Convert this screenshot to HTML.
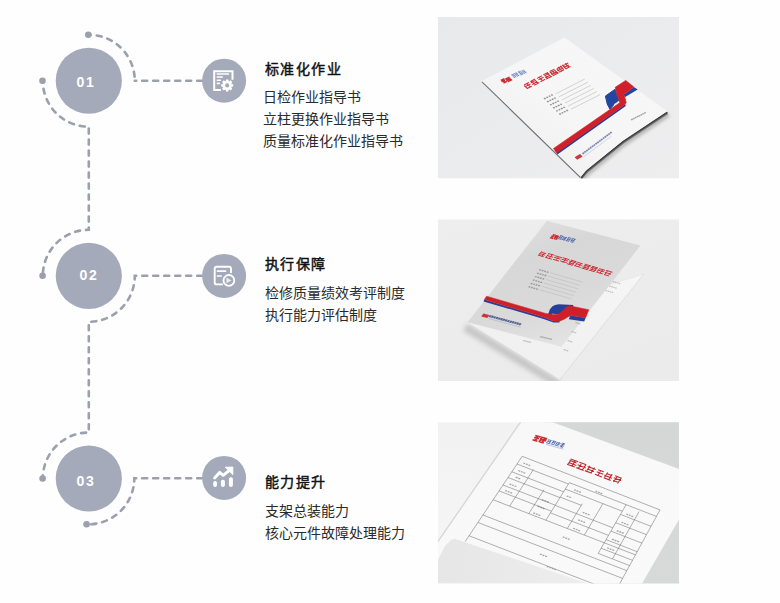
<!DOCTYPE html>
<html lang="zh-CN">
<head>
<meta charset="utf-8">
<style>
html,body{margin:0;padding:0;}
body{width:780px;height:603px;overflow:hidden;background:#fefefe;position:relative;font-family:"Liberation Sans",sans-serif;}
svg.bg{position:absolute;left:0;top:0;}
.t{position:absolute;color:#222;white-space:nowrap;text-align:justify;text-align-last:justify;}
.h{font-size:14px;line-height:20px;font-weight:normal;color:#111;letter-spacing:1.4px;-webkit-text-stroke:0.45px #111;}
.l{font-size:14px;color:#2a2a2a;line-height:22px;}
.num{position:absolute;width:66px;text-align:center;color:#fff;font-weight:bold;font-size:14px;letter-spacing:1.6px;line-height:16px;}
</style>
</head>
<body>
<svg class="bg" width="780" height="603" viewBox="0 0 780 603">
  <defs>
<linearGradient id="bg1" x1="0" y1="0" x2="1" y2="1">
 <stop offset="0" stop-color="#e8e9eb"/><stop offset="1" stop-color="#eeeeef"/>
</linearGradient>
<linearGradient id="bg2" x1="0" y1="0" x2="0.6" y2="1">
 <stop offset="0" stop-color="#eeeeef"/><stop offset="1" stop-color="#ebebeb"/>
</linearGradient>
<linearGradient id="sheet2" x1="1" y1="0" x2="0" y2="1">
 <stop offset="0" stop-color="#f6f6f6"/><stop offset="1" stop-color="#eeeeee"/>
</linearGradient>
<linearGradient id="cov2" x1="0.1" y1="0" x2="0.6" y2="1">
 <stop offset="0" stop-color="#e2e2e2"/><stop offset="0.35" stop-color="#d7d7d7"/><stop offset="0.7" stop-color="#dadada"/><stop offset="1" stop-color="#e4e4e4"/>
</linearGradient>
<linearGradient id="bg3l" x1="0" y1="0" x2="0" y2="1">
 <stop offset="0" stop-color="#f2f2f2"/><stop offset="1" stop-color="#f6f6f6"/>
</linearGradient>
<linearGradient id="bg3r" x1="0" y1="0" x2="0" y2="1">
 <stop offset="0" stop-color="#d5d6d6"/><stop offset="1" stop-color="#d8d9d9"/>
</linearGradient>
<linearGradient id="doc3" x1="0" y1="0" x2="1" y2="1">
 <stop offset="0" stop-color="#f7f7f7"/><stop offset="1" stop-color="#fafafa"/>
</linearGradient>
<linearGradient id="flap3" x1="0" y1="0" x2="1" y2="0">
 <stop offset="0" stop-color="#e6e6e6"/><stop offset="1" stop-color="#eeeeee"/>
</linearGradient>
<filter id="blur15" x="-20%" y="-20%" width="140%" height="140%"><feGaussianBlur stdDeviation="1.5"/></filter>
<filter id="blur2" x="-20%" y="-20%" width="140%" height="140%"><feGaussianBlur stdDeviation="2.2"/></filter>
<filter id="blur3" x="-20%" y="-20%" width="140%" height="140%"><feGaussianBlur stdDeviation="3"/></filter>
<linearGradient id="doc1" x1="0" y1="1" x2="1" y2="0">
 <stop offset="0" stop-color="#ececec"/><stop offset="0.45" stop-color="#f6f6f6"/><stop offset="1" stop-color="#f7f7f7"/>
</linearGradient>
</defs>
  <!-- timeline -->
  <g fill="none" stroke="#9b9fae" stroke-width="2.6" stroke-linecap="round" stroke-dasharray="5 6">
    <path stroke-dashoffset="3" d="M88.8 34.75 A46 46 0 0 1 134.8 80.75"/>
    <path stroke-dashoffset="0.2" d="M202 80.75 L134.8 80.75"/>
    <path stroke-dashoffset="3" d="M42.8 80.75 A46 46 0 0 0 88.8 126.75 L88.8 229.8 A46 46 0 0 0 42.8 275.8"/>
    <path stroke-dashoffset="0.2" d="M202 275.8 L134.8 275.8 A46 46 0 0 1 88.8 321.8 L88.8 432.5 A46 46 0 0 0 42.8 478.5"/>
    <path stroke-dashoffset="0.2" d="M202 478.3 L134.3 478.3 A46 46 0 0 1 88.3 524.3"/>
  </g>
  <g fill="#9b9fae">
    <circle cx="88.3" cy="34.75" r="3.3"/>
    <circle cx="42.5" cy="80.75" r="3.3"/>
    <circle cx="42.6" cy="275.8" r="3.3"/>
    <circle cx="42.6" cy="478.5" r="3.3"/>
    <circle cx="86.6" cy="524.3" r="3.3"/>
  </g>
  <g fill="#a5aabb">
    <circle cx="88.8" cy="80.75" r="33.1"/>
    <circle cx="88.8" cy="275.8" r="33.1"/>
    <circle cx="88.8" cy="478.5" r="33.1"/>
    <circle cx="224.1" cy="80.7" r="22"/>
    <circle cx="224.1" cy="275.9" r="22"/>
    <circle cx="224.1" cy="477.9" r="22"/>
  </g>
  <!-- icon 1: doc + gear -->
  <g fill="none" stroke="#fff" stroke-width="2">
    <path d="M232.5 79.7 V71.2 H214.2 V90 H220.9"/>
  </g>
  <g stroke="#fff" stroke-width="1.6" stroke-linecap="butt">
    <path d="M216.7 74H229.1 M216.7 77H222.9 M216.7 80.2H220.9 M216.7 83.4H219.9"/>
  </g>
  <g transform="translate(227.2 85.4)">
    <path fill="#fff" fill-rule="evenodd" d="M-1.39 -4.49 L-1.15 -5.99 L1.15 -5.99 L1.39 -4.49 L2.19 -4.16 L3.42 -5.05 L5.05 -3.42 L4.16 -2.19 L4.49 -1.39 L5.99 -1.15 L5.99 1.15 L4.49 1.39 L4.16 2.19 L5.05 3.42 L3.42 5.05 L2.19 4.16 L1.39 4.49 L1.15 5.99 L-1.15 5.99 L-1.39 4.49 L-2.19 4.16 L-3.42 5.05 L-5.05 3.42 L-4.16 2.19 L-4.49 1.39 L-5.99 1.15 L-5.99 -1.15 L-4.49 -1.39 L-4.16 -2.19 L-5.05 -3.42 L-3.42 -5.05 L-2.19 -4.16 Z M2.1 0 A2.1 2.1 0 1 0 -2.1 0 A2.1 2.1 0 1 0 2.1 0 Z"/>
  </g>
  <!-- icon 2: doc + play -->
  <path fill="none" stroke="#fff" stroke-width="1.9" d="M231 273 V268.7 Q231 266.7 229 266.7 H216.7 Q214.7 266.7 214.7 268.7 V282.4 Q214.7 284.4 216.7 284.4 H222.9"/>
  <path stroke="#fff" stroke-width="1.7" stroke-linecap="round" d="M217.5 271.1H225.6 M217.5 276H221.1"/>
  <circle cx="228.9" cy="280.4" r="5.4" fill="none" stroke="#fff" stroke-width="1.8"/>
  <path fill="#ebebf0" d="M226.4 277.5 L226.4 283.2 L231.6 280.4 Z"/>
  <!-- icon 3: chart -->
  <g fill="#fff">
    <rect x="213.2" y="480.9" width="3.8" height="6" rx="1.9"/>
    <rect x="220.9" y="479.7" width="4" height="7.2" rx="1.9"/>
    <rect x="228.9" y="477.2" width="4" height="9.7" rx="1.9"/>
    <path d="M225.2 467.2 L232.9 467 L232.9 474.7 Z" stroke="#fff" stroke-width="0.8" stroke-linejoin="round"/>
  </g>
  <path fill="none" stroke="#fff" stroke-width="3" stroke-linecap="round" stroke-linejoin="round" d="M214.6 477.9 L219.6 472.4 L223.2 475.3 L230 469.8"/>

  <!-- photos -->
  <clipPath id="c1"><rect x="438" y="17" width="241" height="161.6"/></clipPath>
<g clip-path="url(#c1)">
<rect x="438" y="17" width="241" height="161.6" fill="url(#bg1)"/>
<path d="M668.4 114.4 L624.0 143.9 L587.7 173.2 Q584.7 176.7 582.1 180.0" stroke="#8a8a8a" stroke-width="5" fill="none" opacity="0.5" filter="url(#blur15)"/>
<path d="M667.6 113.4 L623.2 142.9 L586.9 172.2 Q583.9 175.7 581.3 179.0" stroke="#6e6e6e" stroke-width="1.6" fill="none"/>
<path d="M667.3 112.2 L622.9 141.7 L586.6 171.0 Q583.6 174.5 581.0 177.8" stroke="#3c3c3c" stroke-width="1.5" fill="none"/>
<line x1="482.1" y1="81.8" x2="580.3" y2="177.4" stroke="#4a4a4a" stroke-width="1.3" opacity="0.75"/>
<path d="M481.9 80.9 L564.5 37.5 667.2 111.2 L622.8 140.7 L586.5 170.0 Q583.5 173.5 580.9 176.8 Z" fill="url(#doc1)"/>
<path d="M503.47 82.95L506.93 81.41 M501.60 81.75L505.06 80.21 M500.77 80.34L504.45 78.71 M504.98 82.28L502.11 79.50" stroke="#c8222a" stroke-width="1.50" fill="none" opacity="0.95"/>
<path d="M507.85 81.61L512.17 79.68 M506.74 80.23L510.63 78.49 M505.26 79.11L509.59 77.18 M507.85 81.00L505.70 78.91 M510.73 80.73L507.86 77.95" stroke="#c8222a" stroke-width="1.50" fill="none" opacity="0.95"/>
<path d="M513.65 77.52L515.99 76.46 M512.62 76.11L514.67 75.18 M511.17 75.12L513.95 73.86 M515.04 77.83L511.74 74.63 M516.50 77.16L513.20 73.96" stroke="#3556aa" stroke-width="0.65" fill="none" opacity="0.8"/>
<path d="M517.19 75.91L519.24 74.98 M515.43 74.83L517.92 73.70 M514.27 73.71L516.76 72.58 M517.71 76.62L514.40 73.42 M519.17 75.95L515.86 72.75" stroke="#3556aa" stroke-width="0.65" fill="none" opacity="0.8"/>
<path d="M520.50 75.12L523.42 73.79 M519.94 73.96L522.43 72.83 M518.35 73.04L520.84 71.91 M517.96 72.04L520.30 70.97 M521.54 74.88L518.24 71.68 M523.00 74.21L520.36 71.65" stroke="#3556aa" stroke-width="0.65" fill="none" opacity="0.8"/>
<path d="M523.65 73.55L526.57 72.22 M522.57 72.29L525.20 71.10 M521.27 71.24L523.76 70.11 M524.79 73.40L522.15 70.84 M526.25 72.74L523.61 70.18" stroke="#3556aa" stroke-width="0.65" fill="none" opacity="0.8"/>
<path d="M527.61 88.30L531.75 86.17 M524.79 86.87L530.41 83.99 M524.17 84.96L528.90 82.53 M527.75 88.86L524.30 85.52 M530.71 87.35L526.40 83.17" stroke="#c9262c" stroke-width="1.05" fill="none" opacity="0.95"/>
<path d="M534.26 85.20L539.28 82.62 M532.08 84.41L537.10 81.83 M530.86 82.79L535.60 80.37 M530.38 81.45L535.11 79.02 M534.50 84.12L531.05 80.78 M538.32 83.44L534.87 80.10" stroke="#c9262c" stroke-width="1.05" fill="none" opacity="0.95"/>
<path d="M540.47 81.70L545.20 79.27 M538.53 79.82L543.56 77.24 M537.02 78.36L542.05 75.77 M542.11 80.22L538.66 76.88" stroke="#c9262c" stroke-width="1.05" fill="none" opacity="0.95"/>
<path d="M546.23 79.06L551.85 76.18 M545.23 77.66L549.96 75.23 M544.31 75.89L549.04 73.46 M543.24 74.85L547.97 72.42 M547.36 77.52L544.77 75.02 M551.17 76.84L546.86 72.66" stroke="#c9262c" stroke-width="1.05" fill="none" opacity="0.95"/>
<path d="M552.66 75.76L558.57 72.72 M551.36 74.51L556.98 71.62 M549.85 73.05L555.47 70.16 M549.66 71.55L554.40 69.12 M553.76 75.51L550.31 72.17 M555.83 74.45L552.38 71.11 M557.90 73.39L554.45 70.05" stroke="#c9262c" stroke-width="1.05" fill="none" opacity="0.95"/>
<path d="M559.25 72.18L563.98 69.75 M557.36 70.79L562.98 67.91 M556.74 68.87L561.77 66.29 M559.33 71.38L556.74 68.87 M561.40 70.32L557.95 66.98 M563.47 69.25L560.02 65.91" stroke="#c9262c" stroke-width="1.05" fill="none" opacity="0.95"/>
<path d="M566.27 68.58L570.41 66.45 M563.79 67.49L568.82 64.91 M563.17 65.57L568.20 62.99 M566.32 69.06L562.01 64.89 M569.28 67.55L564.97 63.37" stroke="#c9262c" stroke-width="1.05" fill="none" opacity="0.95"/>
<polygon points="544.6,99.4 546.2,98.7 545.0,97.5 543.5,98.3" fill="#555" opacity="0.6"/>
<polygon points="547.0,98.2 548.5,97.5 547.4,96.4 545.8,97.1" fill="#555" opacity="0.6"/>
<polygon points="549.4,97.1 550.9,96.4 549.8,95.2 548.2,96.0" fill="#555" opacity="0.6"/>
<polygon points="551.7,95.9 553.3,95.2 552.1,94.1 550.6,94.8" fill="#555" opacity="0.6"/>
<line x1="555.7" y1="93.8" x2="584.7" y2="79.1" stroke="#9a9a9a" stroke-width="0.5" opacity="0.8"/>
<polygon points="547.7,102.5 549.2,101.8 548.1,100.6 546.5,101.4" fill="#555" opacity="0.6"/>
<polygon points="550.0,101.3 551.6,100.6 550.4,99.5 548.9,100.2" fill="#555" opacity="0.6"/>
<polygon points="552.4,100.2 554.0,99.5 552.8,98.3 551.3,99.1" fill="#555" opacity="0.6"/>
<polygon points="554.8,99.0 556.3,98.3 555.2,97.2 553.6,97.9" fill="#555" opacity="0.6"/>
<line x1="558.8" y1="96.9" x2="587.8" y2="82.2" stroke="#9a9a9a" stroke-width="0.5" opacity="0.8"/>
<polygon points="550.7,105.6 552.3,104.9 551.1,103.7 549.6,104.5" fill="#555" opacity="0.6"/>
<polygon points="553.1,104.4 554.6,103.7 553.5,102.6 551.9,103.3" fill="#555" opacity="0.6"/>
<polygon points="555.5,103.3 557.0,102.6 555.9,101.4 554.3,102.2" fill="#555" opacity="0.6"/>
<polygon points="557.8,102.1 559.4,101.4 558.2,100.3 556.7,101.0" fill="#555" opacity="0.6"/>
<line x1="561.8" y1="100.0" x2="590.8" y2="85.3" stroke="#9a9a9a" stroke-width="0.5" opacity="0.8"/>
<polygon points="553.8,108.7 555.3,108.0 554.2,106.8 552.6,107.6" fill="#555" opacity="0.6"/>
<polygon points="556.1,107.5 557.7,106.8 556.5,105.7 555.0,106.4" fill="#555" opacity="0.6"/>
<polygon points="558.5,106.4 560.1,105.7 558.9,104.5 557.4,105.3" fill="#555" opacity="0.6"/>
<polygon points="560.9,105.2 562.4,104.5 561.3,103.4 559.7,104.1" fill="#555" opacity="0.6"/>
<line x1="564.9" y1="103.1" x2="593.9" y2="88.4" stroke="#9a9a9a" stroke-width="0.5" opacity="0.8"/>
<polygon points="556.8,111.8 558.4,111.1 557.2,109.9 555.7,110.7" fill="#555" opacity="0.6"/>
<polygon points="559.2,110.6 560.7,109.9 559.6,108.8 558.0,109.5" fill="#555" opacity="0.6"/>
<polygon points="561.6,109.5 563.1,108.8 562.0,107.6 560.4,108.4" fill="#555" opacity="0.6"/>
<polygon points="563.9,108.3 565.5,107.6 564.3,106.5 562.8,107.2" fill="#555" opacity="0.6"/>
<line x1="567.9" y1="106.2" x2="596.9" y2="91.5" stroke="#9a9a9a" stroke-width="0.5" opacity="0.8"/>
<polygon points="559.9,114.9 561.4,114.2 560.3,113.0 558.7,113.8" fill="#555" opacity="0.6"/>
<polygon points="562.2,113.7 563.8,113.0 562.6,111.9 561.1,112.6" fill="#555" opacity="0.6"/>
<polygon points="564.6,112.6 566.2,111.9 565.0,110.7 563.5,111.5" fill="#555" opacity="0.6"/>
<polygon points="567.0,111.4 568.5,110.7 567.4,109.6 565.8,110.3" fill="#555" opacity="0.6"/>
<line x1="571.0" y1="109.3" x2="600.0" y2="94.6" stroke="#9a9a9a" stroke-width="0.5" opacity="0.8"/>
<polygon points="556.6,152.6 625.2,104.2 625.8,105.9 557.4,154.6" fill="#1f3f9a"/>
<polygon points="605.4,96.1 615.0,89.3 616.9,94.9 619.2,100.6 614.4,104.0 609.9,109.2 607.2,104.0" fill="#2346a0" stroke="#2346a0" stroke-width="1" stroke-linejoin="round"/>
<polygon points="614.1,104.2 619.2,100.8 620.2,102.9 614.9,106.4" fill="#f2f2f2"/>
<polygon points="623.7,94.4 633.9,87.0 637.7,89.6 624.8,97.2" fill="#2346a0"/>
<polygon points="615.2,87.3 625.7,80.4 633.9,87.0 623.7,94.4 624.8,97.2 626.2,102.3 625.1,104.5 556.6,153.0 553.5,148.5 619.7,102.8 619.2,100.6 616.9,94.9" fill="#d0202a" stroke="#d0202a" stroke-width="0.6" stroke-linejoin="round"/>
<polygon points="577.2,159.8 582.6,156.6 580.0,154.1 574.6,157.3" fill="#c8222a" opacity="0.9"/>
<polygon points="583.2,154.5 584.7,153.4 583.4,152.1 581.9,153.2" fill="#2a3f8a" opacity="0.6"/>
<polygon points="585.0,153.1 586.5,152.0 585.2,150.7 583.7,151.8" fill="#2a3f8a" opacity="0.6"/>
<polygon points="586.9,151.7 588.3,150.6 587.1,149.4 585.6,150.5" fill="#2a3f8a" opacity="0.6"/>
<polygon points="588.7,150.3 590.2,149.2 588.9,148.0 587.4,149.1" fill="#2a3f8a" opacity="0.6"/>
<polygon points="590.6,149.0 592.0,147.9 590.7,146.6 589.3,147.7" fill="#2a3f8a" opacity="0.6"/>
<polygon points="592.4,147.6 593.9,146.5 592.6,145.2 591.1,146.3" fill="#2a3f8a" opacity="0.6"/>
<polygon points="594.2,146.2 595.7,145.1 594.4,143.9 593.0,145.0" fill="#2a3f8a" opacity="0.6"/>
<polygon points="596.1,144.8 597.6,143.7 596.3,142.5 594.8,143.6" fill="#2a3f8a" opacity="0.6"/>
<polygon points="597.9,143.5 599.4,142.4 598.1,141.1 596.6,142.2" fill="#2a3f8a" opacity="0.6"/>
<polygon points="599.8,142.1 601.3,141.0 600.0,139.7 598.5,140.8" fill="#2a3f8a" opacity="0.6"/>
<polygon points="601.6,140.7 603.1,139.6 601.8,138.4 600.3,139.5" fill="#2a3f8a" opacity="0.6"/>
<polygon points="603.5,139.3 604.9,138.2 603.6,137.0 602.2,138.1" fill="#2a3f8a" opacity="0.6"/>
<polygon points="605.3,138.0 606.8,136.9 605.5,135.6 604.0,136.7" fill="#2a3f8a" opacity="0.6"/>
<polygon points="607.2,136.6 608.6,135.5 607.3,134.2 605.9,135.3" fill="#2a3f8a" opacity="0.6"/>
<polygon points="609.0,135.2 610.5,134.1 609.2,132.9 607.7,134.0" fill="#2a3f8a" opacity="0.6"/>
<polygon points="610.8,133.8 612.3,132.7 611.0,131.5 609.5,132.6" fill="#2a3f8a" opacity="0.6"/>
<line x1="584.2" y1="156.4" x2="611.5" y2="136.2" stroke="#7f8fb8" stroke-width="0.5" opacity="0.6"/>
<polygon points="631.7,120.4 633.2,119.7 632.1,118.6 630.6,119.4" fill="#666" opacity="0.6"/>
<polygon points="633.6,119.5 635.1,118.7 634.0,117.7 632.5,118.4" fill="#666" opacity="0.6"/>
<polygon points="635.4,118.5 636.9,117.8 635.9,116.7 634.4,117.5" fill="#666" opacity="0.6"/>
<polygon points="637.3,117.6 638.8,116.8 637.7,115.8 636.2,116.6" fill="#666" opacity="0.6"/>
<polygon points="639.2,116.7 640.7,115.9 639.6,114.9 638.1,115.6" fill="#666" opacity="0.6"/>
<polygon points="641.1,115.7 642.6,115.0 641.5,113.9 640.0,114.7" fill="#666" opacity="0.6"/>
<polygon points="642.9,114.8 644.4,114.0 643.4,113.0 641.9,113.7" fill="#666" opacity="0.6"/>
<polygon points="644.8,113.8 646.3,113.1 645.2,112.1 643.7,112.8" fill="#666" opacity="0.6"/>
</g>
  <clipPath id="c2"><rect x="438" y="219.3" width="241" height="161.7"/></clipPath>
<g clip-path="url(#c2)">
<rect x="438" y="219.3" width="241" height="161.7" fill="url(#bg2)"/>
<polygon points="467.6,323.5 560.0,380.5 557.0,388.0 463.0,331.0" fill="#c4c4c4" filter="url(#blur2)" opacity="0.9"/>
<polygon points="610.0,284.6 643.8,274.0 560.0,379.5 467.6,322.3 550.0,300.0" fill="url(#sheet2)"/>
<line x1="643.8" y1="274.0" x2="560.0" y2="379.5" stroke="#d6d6d6" stroke-width="0.7" opacity="0.9"/>
<line x1="610.0" y1="284.6" x2="643.8" y2="274.0" stroke="#e2e2e2" stroke-width="0.6" opacity="0.9"/>
<polygon points="546.8,220.8 640.4,245.6 561.5,346.7 467.6,322.3" fill="url(#cov2)"/>
<polygon points="612.3,282.1 613.7,282.5 614.5,281.5 613.1,281.1" fill="#8a8a8a" opacity="0.5"/>
<polygon points="614.3,282.7 615.7,283.1 616.5,282.0 615.1,281.6" fill="#8a8a8a" opacity="0.5"/>
<polygon points="616.3,283.2 617.7,283.6 618.5,282.6 617.1,282.2" fill="#8a8a8a" opacity="0.5"/>
<polygon points="618.3,283.8 619.7,284.2 620.5,283.2 619.1,282.8" fill="#8a8a8a" opacity="0.5"/>
<polygon points="608.8,286.6 610.2,287.0 611.0,286.0 609.6,285.6" fill="#8a8a8a" opacity="0.5"/>
<polygon points="610.8,287.2 612.2,287.6 613.0,286.5 611.6,286.1" fill="#8a8a8a" opacity="0.5"/>
<polygon points="612.8,287.7 614.2,288.1 615.0,287.1 613.6,286.7" fill="#8a8a8a" opacity="0.5"/>
<polygon points="614.8,288.3 616.2,288.7 617.0,287.7 615.6,287.3" fill="#8a8a8a" opacity="0.5"/>
<polygon points="605.3,291.1 606.7,291.5 607.5,290.5 606.1,290.1" fill="#8a8a8a" opacity="0.5"/>
<polygon points="607.3,291.7 608.7,292.1 609.5,291.0 608.1,290.6" fill="#8a8a8a" opacity="0.5"/>
<polygon points="609.3,292.2 610.7,292.6 611.5,291.6 610.1,291.2" fill="#8a8a8a" opacity="0.5"/>
<polygon points="611.3,292.8 612.7,293.2 613.5,292.2 612.1,291.8" fill="#8a8a8a" opacity="0.5"/>
<polygon points="575.2,323.1 576.4,323.4 577.2,322.4 576.0,322.1" fill="#8a8a8a" opacity="0.55"/>
<polygon points="576.9,323.6 578.1,323.9 578.9,322.9 577.7,322.6" fill="#8a8a8a" opacity="0.55"/>
<polygon points="578.6,324.1 579.8,324.4 580.5,323.4 579.4,323.1" fill="#8a8a8a" opacity="0.55"/>
<polygon points="571.2,332.1 572.4,332.4 573.2,331.4 572.0,331.1" fill="#8a8a8a" opacity="0.55"/>
<polygon points="572.9,332.6 574.1,332.9 574.9,331.9 573.7,331.6" fill="#8a8a8a" opacity="0.55"/>
<polygon points="574.6,333.1 575.8,333.4 576.5,332.4 575.4,332.1" fill="#8a8a8a" opacity="0.55"/>
<polygon points="567.2,341.1 568.4,341.4 569.2,340.4 568.0,340.1" fill="#8a8a8a" opacity="0.55"/>
<polygon points="568.9,341.6 570.1,341.9 570.9,340.9 569.7,340.6" fill="#8a8a8a" opacity="0.55"/>
<polygon points="570.6,342.1 571.8,342.4 572.5,341.4 571.4,341.1" fill="#8a8a8a" opacity="0.55"/>
<polygon points="563.2,350.1 564.4,350.4 565.2,349.4 564.0,349.1" fill="#8a8a8a" opacity="0.55"/>
<polygon points="564.9,350.6 566.1,350.9 566.9,349.9 565.7,349.6" fill="#8a8a8a" opacity="0.55"/>
<polygon points="566.6,351.1 567.8,351.4 568.5,350.4 567.4,350.1" fill="#8a8a8a" opacity="0.55"/>
<path d="M549.90 237.69L553.32 238.60 M551.17 236.05L554.59 236.97 M552.80 234.52L555.86 235.33 M551.38 238.30L553.64 235.40" stroke="#c8222a" stroke-width="1.30" fill="none" opacity="0.95"/>
<path d="M554.15 238.60L557.21 239.42 M554.88 236.83L557.94 237.64 M555.87 235.56L558.93 236.37 M554.05 239.01L556.87 235.39 M556.59 238.81L558.29 236.64" stroke="#c8222a" stroke-width="1.30" fill="none" opacity="0.95"/>
<path d="M557.83 238.48L561.43 239.38 M559.17 237.04L562.05 237.76 M560.15 235.50L563.57 236.36 M558.94 238.17L561.00 235.52 M560.40 239.32L562.98 236.01" stroke="#2f50a5" stroke-width="0.80" fill="none" opacity="0.85"/>
<path d="M562.09 239.43L565.51 240.29 M563.40 238.29L565.92 238.92 M563.95 237.05L567.19 237.86 M562.06 239.74L564.13 237.09 M563.86 240.19L565.93 237.54" stroke="#2f50a5" stroke-width="0.80" fill="none" opacity="0.85"/>
<path d="M566.01 240.53L568.89 241.25 M566.99 238.99L570.41 239.85 M568.15 237.50L571.57 238.36 M566.42 240.83L569.00 237.52 M568.40 241.32L570.47 238.68" stroke="#2f50a5" stroke-width="0.80" fill="none" opacity="0.85"/>
<path d="M570.37 241.62L573.43 242.38 M571.17 240.04L574.59 240.89 M572.33 238.55L575.75 239.40 M570.94 241.17L573.00 238.52 M572.40 242.32L574.98 239.01" stroke="#2f50a5" stroke-width="0.80" fill="none" opacity="0.85"/>
<path d="M538.39 255.14L543.73 256.70 M539.62 253.57L544.95 255.13 M541.45 252.27L546.12 253.64 M538.46 255.58L541.78 251.32 M541.79 256.56L544.45 253.15" stroke="#c6262c" stroke-width="0.95" fill="none" opacity="0.95"/>
<path d="M545.21 257.29L551.88 259.24 M547.03 255.47L553.04 257.23 M548.20 253.46L554.53 255.31 M545.71 257.70L548.36 254.29 M549.04 258.68L552.36 254.42" stroke="#c6262c" stroke-width="0.95" fill="none" opacity="0.95"/>
<path d="M552.96 259.30L558.96 261.05 M554.12 257.28L560.45 259.14 M555.28 255.79L561.95 257.74 M556.29 259.75L558.28 257.19" stroke="#c6262c" stroke-width="0.95" fill="none" opacity="0.95"/>
<path d="M560.20 260.89L566.87 262.84 M561.53 259.19L568.20 261.14 M562.70 257.70L569.37 259.65 M562.88 262.72L566.20 258.46" stroke="#c6262c" stroke-width="0.95" fill="none" opacity="0.95"/>
<path d="M566.96 263.65L572.63 265.31 M568.95 262.67L573.62 264.03 M569.12 260.88L575.79 262.84 M570.95 260.11L576.62 261.77 M568.79 264.45L572.11 260.19 M572.13 265.43L575.45 261.17" stroke="#c6262c" stroke-width="0.95" fill="none" opacity="0.95"/>
<path d="M574.37 265.56L580.71 267.41 M575.87 263.64L582.20 265.50 M577.36 262.25L582.70 263.81 M574.71 266.18L577.36 262.77 M578.71 266.30L580.70 263.75" stroke="#c6262c" stroke-width="0.95" fill="none" opacity="0.95"/>
<path d="M581.46 267.89L587.79 269.74 M582.79 266.71L588.79 268.47 M583.95 265.22L589.28 266.78 M584.78 264.16L591.12 266.01 M583.29 268.69L585.95 265.28 M586.63 269.67L589.95 265.41" stroke="#c6262c" stroke-width="0.95" fill="none" opacity="0.95"/>
<path d="M588.71 270.01L594.38 271.67 M590.04 268.83L596.04 270.59 M590.87 267.24L596.53 268.90 M592.03 266.28L598.03 268.03 M591.21 269.96L593.86 266.55 M593.88 271.79L597.20 267.53" stroke="#c6262c" stroke-width="0.95" fill="none" opacity="0.95"/>
<path d="M597.12 272.21L602.79 273.87 M597.62 270.00L604.29 271.95 M599.11 268.61L605.12 270.37 M596.46 272.54L599.11 269.13 M599.79 273.52L603.11 269.26" stroke="#c6262c" stroke-width="0.95" fill="none" opacity="0.95"/>
<path d="M604.21 274.54L608.88 275.91 M605.03 272.43L611.04 274.19 M606.20 270.42L612.53 272.27 M604.37 274.85L607.70 270.60 M608.71 275.08L610.70 272.52" stroke="#c6262c" stroke-width="0.95" fill="none" opacity="0.95"/>
<polygon points="538.8,270.3 540.5,270.8 541.4,269.5 539.8,269.1" fill="#666" opacity="0.55"/>
<polygon points="541.3,271.1 543.0,271.5 543.9,270.3 542.3,269.8" fill="#666" opacity="0.55"/>
<polygon points="543.8,271.8 545.5,272.2 546.4,271.0 544.8,270.5" fill="#666" opacity="0.55"/>
<polygon points="546.3,272.5 548.0,273.0 548.9,271.7 547.3,271.2" fill="#666" opacity="0.55"/>
<line x1="550.4" y1="272.7" x2="582.4" y2="282.0" stroke="#a8a8a8" stroke-width="0.45" opacity="0.8"/>
<polygon points="536.7,273.7 538.3,274.2 539.3,272.9 537.7,272.5" fill="#666" opacity="0.55"/>
<polygon points="539.2,274.5 540.8,274.9 541.8,273.7 540.2,273.2" fill="#666" opacity="0.55"/>
<polygon points="541.7,275.2 543.3,275.6 544.3,274.4 542.7,273.9" fill="#666" opacity="0.55"/>
<polygon points="544.2,275.9 545.8,276.4 546.8,275.1 545.2,274.6" fill="#666" opacity="0.55"/>
<line x1="548.2" y1="276.1" x2="580.2" y2="285.4" stroke="#a8a8a8" stroke-width="0.45" opacity="0.8"/>
<polygon points="534.5,277.1 536.2,277.6 537.1,276.3 535.5,275.9" fill="#666" opacity="0.55"/>
<polygon points="537.0,277.9 538.7,278.3 539.6,277.1 538.0,276.6" fill="#666" opacity="0.55"/>
<polygon points="539.5,278.6 541.2,279.0 542.1,277.8 540.5,277.3" fill="#666" opacity="0.55"/>
<polygon points="542.0,279.3 543.7,279.8 544.6,278.5 543.0,278.0" fill="#666" opacity="0.55"/>
<line x1="546.1" y1="279.5" x2="578.1" y2="288.8" stroke="#a8a8a8" stroke-width="0.45" opacity="0.8"/>
<polygon points="532.4,280.5 534.0,281.0 535.0,279.7 533.4,279.3" fill="#666" opacity="0.55"/>
<polygon points="534.9,281.3 536.5,281.7 537.5,280.5 535.9,280.0" fill="#666" opacity="0.55"/>
<polygon points="537.4,282.0 539.0,282.4 540.0,281.2 538.4,280.7" fill="#666" opacity="0.55"/>
<polygon points="539.9,282.7 541.5,283.2 542.5,281.9 540.9,281.4" fill="#666" opacity="0.55"/>
<line x1="543.9" y1="282.9" x2="575.9" y2="292.2" stroke="#a8a8a8" stroke-width="0.45" opacity="0.8"/>
<polygon points="530.2,283.9 531.9,284.4 532.8,283.1 531.2,282.7" fill="#666" opacity="0.55"/>
<polygon points="532.7,284.7 534.4,285.1 535.3,283.9 533.7,283.4" fill="#666" opacity="0.55"/>
<polygon points="535.2,285.4 536.9,285.8 537.8,284.6 536.2,284.1" fill="#666" opacity="0.55"/>
<polygon points="537.7,286.1 539.4,286.6 540.3,285.3 538.7,284.8" fill="#666" opacity="0.55"/>
<line x1="541.8" y1="286.3" x2="573.8" y2="295.6" stroke="#a8a8a8" stroke-width="0.45" opacity="0.8"/>
<polygon points="528.1,287.3 529.7,287.8 530.7,286.5 529.1,286.1" fill="#666" opacity="0.55"/>
<polygon points="530.6,288.1 532.2,288.5 533.2,287.3 531.6,286.8" fill="#666" opacity="0.55"/>
<polygon points="533.1,288.8 534.7,289.2 535.7,288.0 534.1,287.5" fill="#666" opacity="0.55"/>
<polygon points="535.6,289.5 537.2,290.0 538.2,288.7 536.6,288.2" fill="#666" opacity="0.55"/>
<line x1="539.6" y1="289.7" x2="571.6" y2="299.0" stroke="#a8a8a8" stroke-width="0.45" opacity="0.8"/>
<polygon points="484.2,299.6 544.2,317.3 553.4,321.1 559.5,320.8 559.5,322.4 553.4,322.6 543.6,319.1 483.6,301.4" fill="#24409a"/>
<polygon points="548.0,314.6 550.0,309.2 552.2,306.6 555.0,305.0 558.8,304.2 573.4,305.1 570.3,316.2 559.5,316.5" fill="#24409a"/>
<polygon points="570.3,315.4 585.7,317.7 584.2,321.5 568.8,319.2" fill="#24409a"/>
<polygon points="551.8,313.8 559.5,314.3 559.2,316.5 552.2,316.2" fill="#e8e8e8"/>
<polygon points="486.5,296.2 545.7,313.4 551.8,314.4 558.0,314.3 561.8,311.5 566.5,306.9 569.5,305.8 588.8,309.7 585.7,317.7 570.3,315.4 564.2,319.2 559.5,321.2 553.4,321.1 544.2,317.3 484.4,299.6" fill="#cf2029" stroke="#cf2029" stroke-width="0.5" stroke-linejoin="round"/>
<polygon points="481.2,316.4 487.2,317.9 489.4,315.1 483.4,313.6" fill="#c8222a" opacity="0.9"/>
<polygon points="488.4,316.8 490.3,317.4 491.8,315.5 489.8,315.0" fill="#26397a" opacity="0.75"/>
<polygon points="490.7,317.5 492.6,318.0 494.1,316.1 492.1,315.6" fill="#26397a" opacity="0.75"/>
<polygon points="493.0,318.1 494.9,318.6 496.4,316.7 494.4,316.2" fill="#26397a" opacity="0.75"/>
<polygon points="495.3,318.7 497.2,319.2 498.7,317.3 496.7,316.8" fill="#26397a" opacity="0.75"/>
<polygon points="497.5,319.3 499.5,319.8 501.0,317.9 499.0,317.4" fill="#26397a" opacity="0.75"/>
<polygon points="499.8,319.9 501.8,320.4 503.3,318.5 501.3,318.0" fill="#26397a" opacity="0.75"/>
<polygon points="502.1,320.5 504.1,321.1 505.6,319.2 503.6,318.6" fill="#26397a" opacity="0.75"/>
<polygon points="504.4,321.1 506.4,321.7 507.8,319.8 505.9,319.3" fill="#26397a" opacity="0.75"/>
<polygon points="506.7,321.8 508.7,322.3 510.1,320.4 508.2,319.9" fill="#26397a" opacity="0.75"/>
<polygon points="509.0,322.4 511.0,322.9 512.4,321.0 510.5,320.5" fill="#26397a" opacity="0.75"/>
<polygon points="511.3,323.0 513.2,323.5 514.7,321.6 512.8,321.1" fill="#26397a" opacity="0.75"/>
<polygon points="513.6,323.6 515.5,324.1 517.0,322.2 515.1,321.7" fill="#26397a" opacity="0.75"/>
<polygon points="515.9,324.2 517.8,324.7 519.3,322.8 517.4,322.3" fill="#26397a" opacity="0.75"/>
<polygon points="518.2,324.8 520.1,325.4 521.6,323.5 519.7,322.9" fill="#26397a" opacity="0.75"/>
<line x1="488.5" y1="318.5" x2="520.5" y2="327.2" stroke="#6f7fb0" stroke-width="0.45" opacity="0.6"/>
<polygon points="539.7,337.2 541.3,337.6 542.3,336.4 540.7,336.0" fill="#777" opacity="0.55"/>
<polygon points="541.7,337.7 543.3,338.1 544.3,336.8 542.7,336.5" fill="#777" opacity="0.55"/>
<polygon points="543.7,338.2 545.3,338.6 546.3,337.3 544.7,336.9" fill="#777" opacity="0.55"/>
<polygon points="545.7,338.6 547.3,339.0 548.3,337.8 546.7,337.4" fill="#777" opacity="0.55"/>
<polygon points="547.7,339.1 549.3,339.5 550.3,338.2 548.7,337.9" fill="#777" opacity="0.55"/>
<polygon points="549.7,339.6 551.3,340.0 552.3,338.7 550.7,338.3" fill="#777" opacity="0.55"/>
<polygon points="522.7,341.1 524.3,341.4 525.2,340.3 523.6,339.9" fill="#888" opacity="0.5"/>
<polygon points="524.7,341.6 526.3,341.9 527.2,340.8 525.6,340.4" fill="#888" opacity="0.5"/>
<polygon points="526.7,342.1 528.3,342.4 529.2,341.3 527.6,340.9" fill="#888" opacity="0.5"/>
<polygon points="528.7,342.6 530.3,342.9 531.2,341.8 529.6,341.4" fill="#888" opacity="0.5"/>
</g>
  <clipPath id="c3"><rect x="438" y="422.2" width="241" height="161.3"/></clipPath>
<g clip-path="url(#c3)">
<rect x="438" y="422.2" width="241" height="161.3" fill="url(#bg3l)"/>
<polygon points="540.0,410.0 700.0,410.0 700.0,600.0 600.0,600.0" fill="url(#bg3r)"/>
<line x1="527.0" y1="413.0" x2="397.6" y2="600.0" stroke="#cfcfcf" stroke-width="1.6" opacity="0.8"/>
<polygon points="527.8,413.0 703.0,478.0 632.5,600.0 398.4,600.0" fill="url(#doc3)"/>
<line x1="522.2" y1="456.3" x2="660.0" y2="509.9" stroke="#5a5a5a" stroke-width="0.55" opacity="0.85"/>
<line x1="522.2" y1="456.3" x2="463.6" y2="543.9" stroke="#5a5a5a" stroke-width="0.55" opacity="0.85"/>
<line x1="660.0" y1="509.9" x2="610.5" y2="600.6" stroke="#5a5a5a" stroke-width="0.55" opacity="0.85"/>
<line x1="493.2" y1="499.8" x2="635.5" y2="554.9" stroke="#5a5a5a" stroke-width="0.55" opacity="0.85"/>
<line x1="483.0" y1="515.0" x2="626.8" y2="570.7" stroke="#5a5a5a" stroke-width="0.55" opacity="0.85"/>
<line x1="478.0" y1="522.5" x2="622.6" y2="578.4" stroke="#5a5a5a" stroke-width="0.55" opacity="0.85"/>
<line x1="469.1" y1="535.8" x2="615.1" y2="592.2" stroke="#5a5a5a" stroke-width="0.55" opacity="0.85"/>
<line x1="517.0" y1="464.0" x2="568.4" y2="484.0" stroke="#5a5a5a" stroke-width="0.55" opacity="0.85"/>
<line x1="511.9" y1="471.8" x2="563.6" y2="491.8" stroke="#5a5a5a" stroke-width="0.55" opacity="0.85"/>
<line x1="508.0" y1="477.5" x2="560.0" y2="497.6" stroke="#5a5a5a" stroke-width="0.55" opacity="0.85"/>
<line x1="503.0" y1="485.0" x2="555.3" y2="505.2" stroke="#5a5a5a" stroke-width="0.55" opacity="0.85"/>
<line x1="499.1" y1="490.9" x2="551.5" y2="511.2" stroke="#5a5a5a" stroke-width="0.55" opacity="0.85"/>
<line x1="533.4" y1="469.6" x2="509.6" y2="506.1" stroke="#5a5a5a" stroke-width="0.55" opacity="0.85"/>
<line x1="544.0" y1="489.8" x2="528.8" y2="513.6" stroke="#5a5a5a" stroke-width="0.55" opacity="0.85"/>
<line x1="569.3" y1="482.6" x2="545.9" y2="520.2" stroke="#5a5a5a" stroke-width="0.55" opacity="0.85"/>
<line x1="569.3" y1="482.6" x2="656.4" y2="516.4" stroke="#5a5a5a" stroke-width="0.55" opacity="0.85"/>
<line x1="565.3" y1="489.0" x2="622.3" y2="511.2" stroke="#5a5a5a" stroke-width="0.55" opacity="0.85"/>
<line x1="582.3" y1="503.7" x2="567.3" y2="528.5" stroke="#5a5a5a" stroke-width="0.55" opacity="0.85"/>
<line x1="560.3" y1="497.2" x2="581.3" y2="505.3" stroke="#5a5a5a" stroke-width="0.55" opacity="0.85"/>
<line x1="555.2" y1="505.4" x2="612.8" y2="527.8" stroke="#5a5a5a" stroke-width="0.55" opacity="0.85"/>
<line x1="550.5" y1="512.9" x2="608.5" y2="535.4" stroke="#5a5a5a" stroke-width="0.55" opacity="0.85"/>
<line x1="602.9" y1="503.6" x2="584.4" y2="535.1" stroke="#5a5a5a" stroke-width="0.55" opacity="0.85"/>
<line x1="626.1" y1="504.6" x2="598.2" y2="553.4" stroke="#5a5a5a" stroke-width="0.55" opacity="0.85"/>
<line x1="639.0" y1="511.6" x2="612.5" y2="558.9" stroke="#5a5a5a" stroke-width="0.55" opacity="0.85"/>
<line x1="620.5" y1="514.4" x2="651.0" y2="526.3" stroke="#5a5a5a" stroke-width="0.55" opacity="0.85"/>
<line x1="615.7" y1="522.7" x2="646.5" y2="534.7" stroke="#5a5a5a" stroke-width="0.55" opacity="0.85"/>
<line x1="610.9" y1="531.1" x2="641.9" y2="543.1" stroke="#5a5a5a" stroke-width="0.55" opacity="0.85"/>
<line x1="606.1" y1="539.6" x2="637.2" y2="551.7" stroke="#5a5a5a" stroke-width="0.55" opacity="0.85"/>
<line x1="601.1" y1="548.2" x2="632.5" y2="560.3" stroke="#5a5a5a" stroke-width="0.55" opacity="0.85"/>
<line x1="598.2" y1="553.4" x2="629.6" y2="565.6" stroke="#5a5a5a" stroke-width="0.55" opacity="0.85"/>
<polygon points="523.1,463.6 524.8,464.3 525.5,463.2 523.8,462.5" fill="#555" opacity="0.5"/>
<polygon points="525.6,464.5 527.3,465.2 528.0,464.1 526.3,463.5" fill="#555" opacity="0.5"/>
<polygon points="528.1,465.5 529.8,466.2 530.5,465.1 528.8,464.4" fill="#555" opacity="0.5"/>
<polygon points="518.0,471.1 519.8,471.8 520.5,470.7 518.8,470.1" fill="#555" opacity="0.5"/>
<polygon points="520.6,472.1 522.3,472.8 523.0,471.7 521.3,471.0" fill="#555" opacity="0.5"/>
<polygon points="523.1,473.1 524.8,473.8 525.5,472.7 523.8,472.0" fill="#555" opacity="0.5"/>
<polygon points="515.4,477.7 517.2,478.4 517.9,477.3 516.2,476.6" fill="#555" opacity="0.5"/>
<polygon points="518.0,478.7 519.7,479.4 520.5,478.3 518.7,477.6" fill="#555" opacity="0.5"/>
<polygon points="509.2,484.5 511.0,485.2 511.7,484.1 509.9,483.4" fill="#555" opacity="0.5"/>
<polygon points="511.7,485.5 513.5,486.1 514.2,485.1 512.4,484.4" fill="#555" opacity="0.5"/>
<polygon points="514.3,486.4 516.0,487.1 516.8,486.0 515.0,485.4" fill="#555" opacity="0.5"/>
<polygon points="504.8,491.0 506.6,491.7 507.3,490.6 505.6,489.9" fill="#555" opacity="0.5"/>
<polygon points="507.4,492.0 509.2,492.7 509.9,491.6 508.1,490.9" fill="#555" opacity="0.5"/>
<polygon points="509.9,493.0 511.7,493.7 512.4,492.6 510.7,491.9" fill="#555" opacity="0.5"/>
<polygon points="541.4,500.1 543.2,500.8 543.9,499.7 542.2,499.0" fill="#555" opacity="0.5"/>
<polygon points="544.0,501.0 545.8,501.7 546.5,500.7 544.7,500.0" fill="#555" opacity="0.5"/>
<polygon points="546.5,502.0 548.3,502.7 549.0,501.6 547.2,501.0" fill="#555" opacity="0.5"/>
<polygon points="537.2,506.7 539.0,507.4 539.7,506.3 538.0,505.6" fill="#555" opacity="0.5"/>
<polygon points="539.8,507.7 541.6,508.4 542.3,507.3 540.5,506.6" fill="#555" opacity="0.5"/>
<polygon points="542.3,508.7 544.1,509.4 544.8,508.3 543.1,507.6" fill="#555" opacity="0.5"/>
<polygon points="533.0,513.4 534.8,514.1 535.5,513.0 533.7,512.3" fill="#555" opacity="0.5"/>
<polygon points="535.6,514.4 537.3,515.1 538.1,514.0 536.3,513.3" fill="#555" opacity="0.5"/>
<polygon points="538.1,515.4 539.9,516.1 540.6,515.0 538.8,514.3" fill="#555" opacity="0.5"/>
<polygon points="573.7,490.2 575.4,490.9 576.1,489.8 574.4,489.2" fill="#555" opacity="0.5"/>
<polygon points="576.2,491.2 577.9,491.9 578.6,490.8 576.9,490.1" fill="#555" opacity="0.5"/>
<polygon points="578.7,492.2 580.4,492.9 581.1,491.8 579.4,491.1" fill="#555" opacity="0.5"/>
<polygon points="566.4,496.5 568.1,497.2 568.9,496.1 567.1,495.4" fill="#555" opacity="0.5"/>
<polygon points="568.9,497.5 570.7,498.1 571.4,497.1 569.6,496.4" fill="#555" opacity="0.5"/>
<polygon points="582.4,512.9 584.2,513.6 584.9,512.5 583.1,511.8" fill="#555" opacity="0.5"/>
<polygon points="584.9,513.8 586.7,514.5 587.4,513.5 585.6,512.8" fill="#555" opacity="0.5"/>
<polygon points="587.4,514.8 589.2,515.5 589.9,514.4 588.2,513.7" fill="#555" opacity="0.5"/>
<polygon points="577.9,520.4 579.7,521.1 580.4,520.0 578.6,519.3" fill="#555" opacity="0.5"/>
<polygon points="580.4,521.4 582.2,522.1 582.9,521.0 581.1,520.3" fill="#555" opacity="0.5"/>
<polygon points="583.0,522.4 584.7,523.0 585.5,522.0 583.7,521.3" fill="#555" opacity="0.5"/>
<polygon points="572.8,528.8 574.6,529.5 575.3,528.4 573.5,527.7" fill="#555" opacity="0.5"/>
<polygon points="575.4,529.8 577.2,530.5 577.9,529.4 576.1,528.7" fill="#555" opacity="0.5"/>
<polygon points="577.9,530.8 579.7,531.5 580.4,530.4 578.7,529.7" fill="#555" opacity="0.5"/>
<polygon points="625.9,514.6 627.7,515.2 628.4,514.2 626.7,513.5" fill="#555" opacity="0.5"/>
<polygon points="628.4,515.5 630.2,516.2 630.9,515.1 629.2,514.5" fill="#555" opacity="0.5"/>
<polygon points="630.9,516.5 632.7,517.2 633.4,516.1 631.7,515.4" fill="#555" opacity="0.5"/>
<polygon points="621.2,522.8 623.0,523.5 623.7,522.4 622.0,521.8" fill="#555" opacity="0.5"/>
<polygon points="623.8,523.8 625.5,524.5 626.2,523.4 624.5,522.7" fill="#555" opacity="0.5"/>
<polygon points="626.3,524.8 628.0,525.5 628.7,524.4 627.0,523.7" fill="#555" opacity="0.5"/>
<polygon points="616.5,531.2 618.2,531.9 619.0,530.8 617.2,530.1" fill="#555" opacity="0.5"/>
<polygon points="619.0,532.2 620.8,532.9 621.5,531.8 619.7,531.1" fill="#555" opacity="0.5"/>
<polygon points="621.5,533.2 623.3,533.9 624.0,532.8 622.3,532.1" fill="#555" opacity="0.5"/>
<polygon points="611.7,539.7 613.4,540.4 614.2,539.3 612.4,538.6" fill="#555" opacity="0.5"/>
<polygon points="614.2,540.7 616.0,541.4 616.7,540.3 614.9,539.6" fill="#555" opacity="0.5"/>
<polygon points="616.8,541.7 618.5,542.4 619.3,541.3 617.5,540.6" fill="#555" opacity="0.5"/>
<polygon points="606.8,548.3 608.6,549.0 609.3,547.9 607.5,547.2" fill="#555" opacity="0.5"/>
<polygon points="609.3,549.3 611.1,550.0 611.9,548.9 610.1,548.2" fill="#555" opacity="0.5"/>
<polygon points="611.9,550.3 613.7,551.0 614.4,549.9 612.6,549.2" fill="#555" opacity="0.5"/>
<polygon points="595.1,491.6 596.9,492.3 597.6,491.2 595.9,490.5" fill="#555" opacity="0.5"/>
<polygon points="597.6,492.6 599.4,493.2 600.1,492.2 598.3,491.5" fill="#555" opacity="0.5"/>
<polygon points="600.1,493.5 601.9,494.2 602.6,493.1 600.8,492.5" fill="#555" opacity="0.5"/>
<polygon points="562.4,537.4 564.2,538.1 564.9,537.0 563.1,536.3" fill="#555" opacity="0.5"/>
<polygon points="564.9,538.4 566.8,539.1 567.5,538.0 565.7,537.3" fill="#555" opacity="0.5"/>
<polygon points="567.5,539.4 569.3,540.1 570.0,539.0 568.2,538.3" fill="#555" opacity="0.5"/>
<polygon points="539.6,554.5 541.4,555.2 542.1,554.1 540.3,553.4" fill="#555" opacity="0.5"/>
<polygon points="542.2,555.5 544.0,556.2 544.7,555.1 542.9,554.4" fill="#555" opacity="0.5"/>
<polygon points="544.8,556.5 546.6,557.2 547.3,556.1 545.5,555.4" fill="#555" opacity="0.5"/>
<path d="M567.05 464.14L574.77 467.06 M569.43 462.86L576.34 465.46 M569.58 460.36L576.48 462.97 M570.55 458.90L578.27 461.82 M567.67 464.74L570.78 460.08 M571.73 466.27L575.62 460.45" stroke="#bc2226" stroke-width="1.10" fill="none" opacity="0.95"/>
<path d="M576.29 467.63L583.60 470.39 M577.63 464.86L585.76 467.92 M579.38 462.24L586.29 464.84 M578.12 468.69L581.24 464.03 M582.19 470.22L586.08 464.40" stroke="#bc2226" stroke-width="1.10" fill="none" opacity="0.95"/>
<path d="M584.83 470.63L591.74 473.24 M587.49 468.94L593.99 471.39 M587.63 466.44L595.76 469.51 M586.92 470.55L590.03 465.89 M590.62 473.40L594.50 467.58" stroke="#bc2226" stroke-width="1.10" fill="none" opacity="0.95"/>
<path d="M594.96 474.31L601.87 476.92 M596.71 471.69L603.21 474.15 M598.07 469.66L603.76 471.80 M597.42 475.97L600.53 471.31" stroke="#bc2226" stroke-width="1.10" fill="none" opacity="0.95"/>
<path d="M603.72 477.76L610.62 480.37 M604.34 475.30L612.06 478.21 M606.52 473.57L612.21 475.72 M604.59 477.22L607.70 472.56 M609.06 478.90L612.17 474.25" stroke="#bc2226" stroke-width="1.10" fill="none" opacity="0.95"/>
<path d="M613.02 480.40L618.71 482.54 M613.76 477.76L621.07 480.52 M615.12 475.72L621.62 478.18 M613.46 482.02L617.35 476.20 M617.52 483.55L621.41 477.73" stroke="#bc2226" stroke-width="1.10" fill="none" opacity="0.95"/>
<path d="M532.48 439.80L537.39 441.11 M534.03 437.48L538.95 438.79 M535.24 435.68L540.77 437.14 M534.90 441.05L537.66 436.93" stroke="#cc2228" stroke-width="1.70" fill="none" opacity="0.95"/>
<path d="M539.49 441.66L543.79 442.81 M540.12 439.10L546.27 440.73 M541.33 437.29L547.17 438.84 M538.84 442.10L542.29 436.94 M541.91 442.91L545.36 437.76" stroke="#cc2228" stroke-width="1.70" fill="none" opacity="0.95"/>
<path d="M545.98 442.68L549.98 443.73 M547.73 441.11L550.93 441.96 M548.02 439.62L551.43 440.52 M547.03 442.51L548.57 440.21 M548.73 443.85L551.28 440.03" stroke="#2f50a5" stroke-width="0.80" fill="none" opacity="0.85"/>
<path d="M550.63 443.90L554.43 444.91 M551.78 442.18L554.98 443.03 M552.47 440.79L555.88 441.69 M551.89 443.79L553.93 440.73 M553.89 444.31L555.93 441.26" stroke="#2f50a5" stroke-width="0.80" fill="none" opacity="0.85"/>
<path d="M555.03 445.16L558.63 446.11 M555.97 443.74L559.78 444.75 M556.67 442.35L560.67 443.41 M555.53 444.75L557.07 442.45 M557.54 445.28L559.58 442.22" stroke="#2f50a5" stroke-width="0.80" fill="none" opacity="0.85"/>
<path d="M559.80 446.55L563.01 447.40 M560.17 445.30L563.97 446.30 M561.06 443.96L564.67 444.91 M562.10 443.11L564.90 443.85 M561.07 447.11L563.63 443.29" stroke="#2f50a5" stroke-width="0.80" fill="none" opacity="0.85"/>
<line x1="546.0" y1="444.4" x2="563.5" y2="449.2" stroke="#5070b0" stroke-width="0.5" opacity="0.7"/>
<polygon points="438.0,560.0 445.0,546.0 451.0,540.0 455.5,538.5 590.0,583.5 438.0,583.5" fill="url(#flap3)"/>
<line x1="455.5" y1="538.7" x2="590.0" y2="583.7" stroke="#ffffff" stroke-width="0.8" opacity="0.7"/>
<polygon points="546.4,567.1 548.1,567.7 548.9,566.6 547.2,566.0" fill="#777" opacity="0.5"/>
<polygon points="548.9,568.0 550.6,568.6 551.4,567.5 549.7,566.8" fill="#777" opacity="0.5"/>
<polygon points="551.4,568.9 553.1,569.5 553.9,568.3 552.2,567.7" fill="#777" opacity="0.5"/>
<polygon points="553.9,569.8 555.6,570.4 556.4,569.2 554.7,568.6" fill="#777" opacity="0.5"/>
</g>
</svg>

<div class="num" style="left:53px;top:74px;">01</div>
<div class="num" style="left:56px;top:267px;">02</div>
<div class="num" style="left:53px;top:472.5px;">03</div>

<div class="t h" style="top:59px;left:265px;width:77px;">标准化作业</div>
<div class="t l" style="top:86px;left:263px;width:98px;">日检作业指导书</div>
<div class="t l" style="top:108px;left:263px;width:126px;">立柱更换作业指导书</div>
<div class="t l" style="top:130px;left:263px;width:140px;">质量标准化作业指导书</div>

<div class="t h" style="top:254px;left:265px;width:61.6px;">执行保障</div>
<div class="t l" style="top:282px;left:265px;width:140px;">检修质量绩效考评制度</div>
<div class="t l" style="top:304px;left:265px;width:112px;">执行能力评估制度</div>

<div class="t h" style="top:472px;left:265px;width:61.6px;">能力提升</div>
<div class="t l" style="top:500px;left:265px;width:84px;">支架总装能力</div>
<div class="t l" style="top:522px;left:265px;width:140px;">核心元件故障处理能力</div>
</body>
</html>
